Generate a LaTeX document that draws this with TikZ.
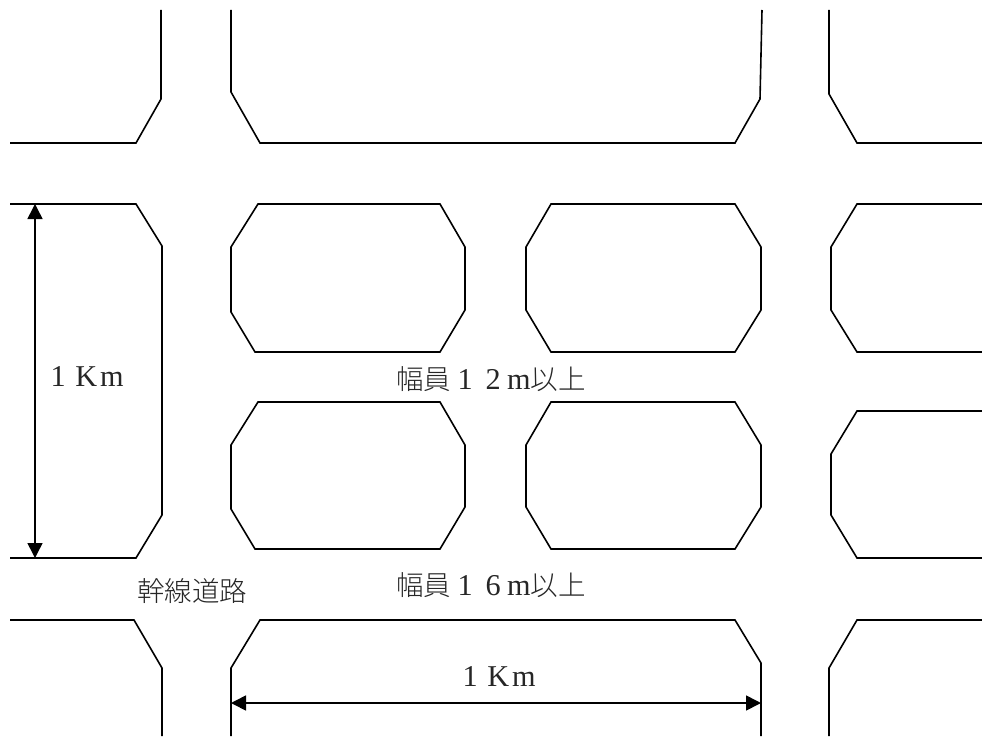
\documentclass[tikz,border=0pt]{standalone}
\usepackage{fontspec}
\usetikzlibrary{arrows.meta}
\setmainfont{Noto Sans CJK JP}[UprightFont=* Light]
\newfontfamily\latinserif{Liberation Serif}[Scale=1.1]
\newcommand{\fwd}[1]{\makebox[28pt]{\latinserif #1}}
\newcommand{\hwd}[1]{{\latinserif #1}}
\tikzset{
  block/.style={draw=black,line width=1.6pt,line join=miter},
  dim/.style={draw=black,line width=1.6pt,{Triangle[length=15pt,width=15pt]}-{Triangle[length=15pt,width=15pt]}},
  lbl/.style={font=\fontsize{27.5}{30}\selectfont,inner sep=0pt,anchor=center,text=black!85}
}
\begin{document}
\begin{tikzpicture}[x=1pt,y=-1pt]
\useasboundingbox (0,0) rectangle (982,746);
\draw[block] (10,143) -- (136,143) -- (161,99) -- (161,10);
\draw[block] (231,10) -- (231,92) -- (260,143) -- (735,143) -- (760,99) -- (762,10);
\draw[block] (829,10) -- (829,94) -- (857,143) -- (982,143);
\draw[block] (10,204) -- (136,204) -- (162,246) -- (162,515) -- (136,558) -- (10,558);
\draw[block] (258,204) -- (440,204) -- (465,247) -- (465,310) -- (440,352) -- (255,352) -- (231,312) -- (231,247) -- cycle;
\draw[block] (551,204) -- (735,204) -- (761,247) -- (761,310) -- (735,352) -- (551,352) -- (526,310) -- (526,247) -- cycle;
\draw[block] (982,204) -- (857,204) -- (831,247) -- (831,310) -- (857,352) -- (982,352);
\draw[block] (258,402) -- (440,402) -- (465,445) -- (465,507) -- (440,549) -- (255,549) -- (231,509) -- (231,445) -- cycle;
\draw[block] (551,402) -- (735,402) -- (761,445) -- (761,507) -- (735,549) -- (551,549) -- (526,507) -- (526,445) -- cycle;
\draw[block] (982,411) -- (857,411) -- (831,454) -- (831,515) -- (857,558) -- (982,558);
\draw[block] (10,620) -- (134,620) -- (162,668) -- (162,736);
\draw[block] (231,736) -- (231,668) -- (260,620) -- (735,620) -- (761,663) -- (761,736);
\draw[block] (829,736) -- (829,668) -- (857,620) -- (982,620);
\coordinate (v1) at (35,204);\coordinate (v2) at (35,558);
\coordinate (h1) at (231,703);\coordinate (h2) at (761,703);
\draw[dim] (v1) -- (v2);
\draw[dim] (h1) -- (h2);
\node[lbl] (a) at (84,377) {\fwd{1}\fwd{K}\hwd{m}};
\node[lbl] (b) at (491,379) {幅員\fwd{1}\fwd{2}\hwd{m}以上};
\node[lbl] (c) at (491,585) {幅員\fwd{1}\fwd{6}\hwd{m}以上};
\node[lbl] (d) at (192,591) {幹線道路};
\node[lbl] (e) at (496,677) {\fwd{1}\fwd{K}\hwd{m}};
\end{tikzpicture}
\end{document}
